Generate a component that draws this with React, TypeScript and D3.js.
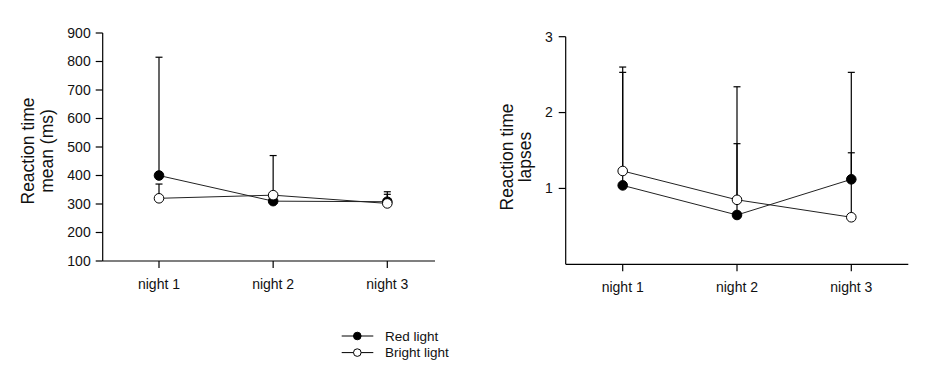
import React from "react";
import * as d3 from "d3";

const categories = ["night 1", "night 2", "night 3"];

// Left panel: Reaction time mean (ms)
const meanRed = [400, 310, 308];
const meanRedErr = [815, 325, 343];
const meanBright = [320, 331, 302];
const meanBrightErr = [370, 470, 334];
const meanTicks = [100, 200, 300, 400, 500, 600, 700, 800, 900];

// Right panel: Reaction time lapses
const lapsesRed = [1.04, 0.65, 1.12];
const lapsesRedErr = [2.6, 1.59, 1.47];
const lapsesBright = [1.23, 0.85, 0.62];
const lapsesBrightErr = [2.53, 2.34, 2.53];
const lapsesTicks = [1, 2, 3];

const legendLabels = ["Red light", "Bright light"];

const FONT = "Arial, 'Liberation Sans', sans-serif";

type PanelProps = {
  x0: number;
  x1: number;
  yTop: number;
  yBot: number;
  catRange: [number, number];
  domain: [number, number];
  ticks: number[];
  red: number[];
  redErr: number[];
  bright: number[];
  brightErr: number[];
  title: string[];
  titleX: number[];
  titleY: number;
  labelGap: number;
};

function Panel(p: PanelProps) {
  const x = d3.scalePoint<string>().domain(categories).range(p.catRange);
  const y = d3.scaleLinear().domain(p.domain).range([p.yBot, p.yTop]);
  const line = d3
    .line<number>()
    .x((_, i) => x(categories[i]) as number)
    .y((d) => y(d));
  const tickLen = 7;
  const cap = 3.5;
  const series = [
    { vals: p.red, err: p.redErr, fill: "#000" },
    { vals: p.bright, err: p.brightErr, fill: "#fff" },
  ];
  return (
    <g>
      {/* axes */}
      <line x1={p.x0} x2={p.x0} y1={p.yTop} y2={p.yBot} stroke="#000" strokeWidth={1.2} />
      <line x1={p.x0} x2={p.x1} y1={p.yBot} y2={p.yBot} stroke="#000" strokeWidth={1.2} />
      {p.ticks.map((t) => (
        <g key={t}>
          <line x1={p.x0 - tickLen} x2={p.x0} y1={y(t)} y2={y(t)} stroke="#000" strokeWidth={1.2} />
          <text
            x={p.x0 - tickLen - p.labelGap}
            y={y(t)}
            dy="0.35em"
            textAnchor="end"
            fontSize={14}
            fontFamily={FONT}
            fill="#111"
          >
            {t}
          </text>
        </g>
      ))}
      {categories.map((c) => (
        <g key={c}>
          <line x1={x(c)} x2={x(c)} y1={p.yBot} y2={p.yBot + tickLen} stroke="#000" strokeWidth={1.2} />
          <text
            x={x(c)}
            y={p.yBot + 28}
            textAnchor="middle"
            fontSize={14}
            fontFamily={FONT}
            fill="#111"
          >
            {c}
          </text>
        </g>
      ))}
      {/* title */}
      <g transform={`rotate(-90)`}>
        {p.title.map((t, i) => (
          <text
            key={t}
            x={-p.titleY}
            y={p.titleX[i]}
            textAnchor="middle"
            fontSize={17.5}
            fontFamily={FONT}
            fill="#111"
          >
            {t}
          </text>
        ))}
      </g>
      {/* error bars */}
      {series.map((s, si) =>
        s.vals.map((v, i) => {
          const cx = x(categories[i]) as number;
          return (
            <g key={`e${si}${i}`}>
              <line x1={cx} x2={cx} y1={y(v)} y2={y(s.err[i])} stroke="#000" strokeWidth={1.2} />
              <line x1={cx - cap} x2={cx + cap} y1={y(s.err[i])} y2={y(s.err[i])} stroke="#000" strokeWidth={1.2} />
            </g>
          );
        })
      )}
      {/* lines */}
      {series.map((s, si) => (
        <path key={`l${si}`} d={line(s.vals) || ""} fill="none" stroke="#222" strokeWidth={1} />
      ))}
      {/* points */}
      {series.map((s, si) =>
        s.vals.map((v, i) => (
          <circle
            key={`c${si}${i}`}
            cx={x(categories[i]) as number}
            cy={y(v)}
            r={4.8}
            fill={s.fill}
            stroke="#000"
            strokeWidth={1}
          />
        ))
      )}
    </g>
  );
}

export default function App() {
  return (
    <svg
      width={925}
      height={376}
      style={{ position: "absolute", left: 0, top: 0, background: "#fff" }}
    >
      <rect width={925} height={376} fill="#fff" />
      <Panel
        x0={102.7}
        x1={435}
        yTop={33}
        yBot={261}
        catRange={[159, 387.3]}
        domain={[100, 900]}
        ticks={meanTicks}
        red={meanRed}
        redErr={meanRedErr}
        bright={meanBright}
        brightErr={meanBrightErr}
        title={["Reaction time", "mean (ms)"]}
        titleX={[34, 53]}
        titleY={151}
        labelGap={5}
      />
      <Panel
        x0={565.7}
        x1={908.3}
        yTop={36.7}
        yBot={264.3}
        catRange={[622.7, 851.3]}
        domain={[0, 3]}
        ticks={lapsesTicks}
        red={lapsesRed}
        redErr={lapsesRedErr}
        bright={lapsesBright}
        brightErr={lapsesBrightErr}
        title={["Reaction time", "lapses"]}
        titleX={[513, 531]}
        titleY={157}
        labelGap={6}
      />
      {/* legend */}
      {legendLabels.map((lab, i) => {
        const ly = 336 + i * 16.6;
        return (
          <g key={lab}>
            <line x1={341.7} x2={373.3} y1={ly} y2={ly} stroke="#000" strokeWidth={1} />
            <circle cx={357.3} cy={ly} r={3.8} fill={i === 0 ? "#000" : "#fff"} stroke="#000" strokeWidth={1} />
            <text x={385} y={ly} dy="0.35em" fontSize={13.5} fontFamily={FONT} fill="#111">
              {lab}
            </text>
          </g>
        );
      })}
    </svg>
  );
}
